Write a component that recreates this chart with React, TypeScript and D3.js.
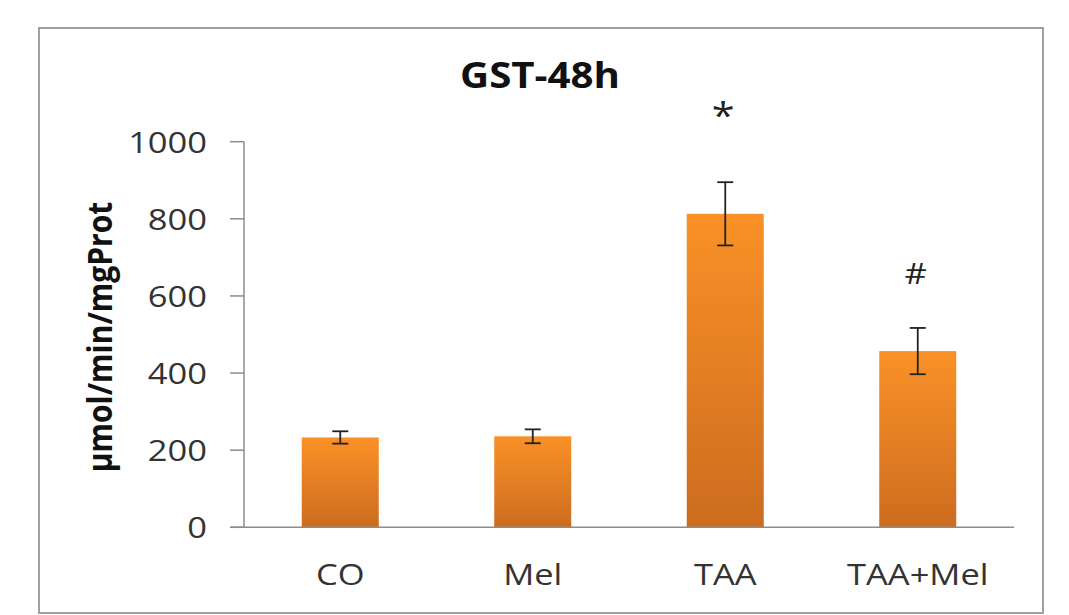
import React from "react";
import * as d3 from "d3";

const categories = ["CO", "Mel", "TAA", "TAA+Mel"];
const means = [233, 236, 813, 457];
const errors = [16, 18, 82, 60];
const marks = ["", "", "*", "#"];
const yTicks = [0, 200, 400, 600, 800, 1000];
const title = "GST-48h";
const yLabel = "µmol/min/mgProt";

const W = 1069;
const H = 615;
const SX = 1.15;
const FONT = "'Open Sans', 'Noto Sans', sans-serif";

export default function App() {
  const x = d3
    .scaleBand<string>()
    .domain(categories)
    .range([244, 1014])
    .paddingInner(0.6)
    .paddingOuter(0.3);
  const y = d3.scaleLinear().domain([0, 1000]).range([527.3, 141.7]);
  const bw = x.bandwidth();

  return (
    <div style={{ position: "absolute", left: 0, top: 0 }}>
      <svg width={W} height={H} style={{ display: "block" }}>
        <defs>
          <linearGradient id="barGrad" x1="0" y1="0" x2="0" y2="1">
            <stop offset="0%" stopColor="#FA9127" />
            <stop offset="100%" stopColor="#CC6C1F" />
          </linearGradient>
        </defs>
        <rect x={0} y={0} width={W} height={H} fill="#fff" />
        <rect x={39} y={28} width={1004} height={585} fill="none" stroke="#a0a0a0" strokeWidth={2} />

        {/* title */}
        <text
          transform={`translate(540,88) scale(${SX},1)`}
          textAnchor="middle"
          fontFamily={FONT}
          fontWeight="bold"
          fontSize={35}
          fill="#111"
        >
          {title}
        </text>

        {/* y axis */}
        <line x1={244} x2={244} y1={y(1000)} y2={y(0)} stroke="#8c8c8c" strokeWidth={1.5} />
        {yTicks.map((t) => (
          <g key={t}>
            <line x1={230} x2={244} y1={y(t)} y2={y(t)} stroke="#8c8c8c" strokeWidth={1.5} />
            <text
              transform={`translate(207,${y(t) + 11}) scale(${SX},1)`}
              textAnchor="end"
              fontFamily={FONT}
              fontSize={30}
              fill="#333"
            >
              {t}
            </text>
          </g>
        ))}
        <text
          transform={`translate(112,337) scale(${SX},1) rotate(-90)`}
          textAnchor="middle"
          fontFamily={FONT}
          fontWeight="bold"
          fontSize={30}
          fill="#111"
        >
          {yLabel}
        </text>

        {/* bars */}
        {categories.map((c, i) => {
          const x0 = x(c)!;
          const cx = x0 + bw / 2;
          const yt = y(means[i]);
          const ytop = y(means[i] + errors[i]);
          const ybot = y(means[i] - errors[i]);
          return (
            <g key={c}>
              <rect x={x0} y={yt} width={bw} height={y(0) - yt} fill="url(#barGrad)" />
              <line x1={cx} x2={cx} y1={ytop} y2={ybot} stroke="#222" strokeWidth={1.8} />
              <line x1={cx - 8} x2={cx + 8} y1={ytop} y2={ytop} stroke="#222" strokeWidth={1.8} />
              <line x1={cx - 8} x2={cx + 8} y1={ybot} y2={ybot} stroke="#222" strokeWidth={1.8} />
              {marks[i] && (
                <text
                  transform={`translate(${cx - 2},${marks[i] === "*" ? 128 : 284}) scale(${SX},1)`}
                  textAnchor="middle"
                  fontFamily={FONT}
                  fontSize={marks[i] === "*" ? 36 : 30}
                  fill="#222"
                >
                  {marks[i]}
                </text>
              )}
              <text
                transform={`translate(${cx},585) scale(${SX},1)`}
                textAnchor="middle"
                fontFamily={FONT}
                fontSize={30}
                fill="#333"
              >
                {c}
              </text>
            </g>
          );
        })}

        {/* baseline */}
        <line x1={230} x2={1014} y1={y(0)} y2={y(0)} stroke="#8c8c8c" strokeWidth={1.5} />
      </svg>
    </div>
  );
}
